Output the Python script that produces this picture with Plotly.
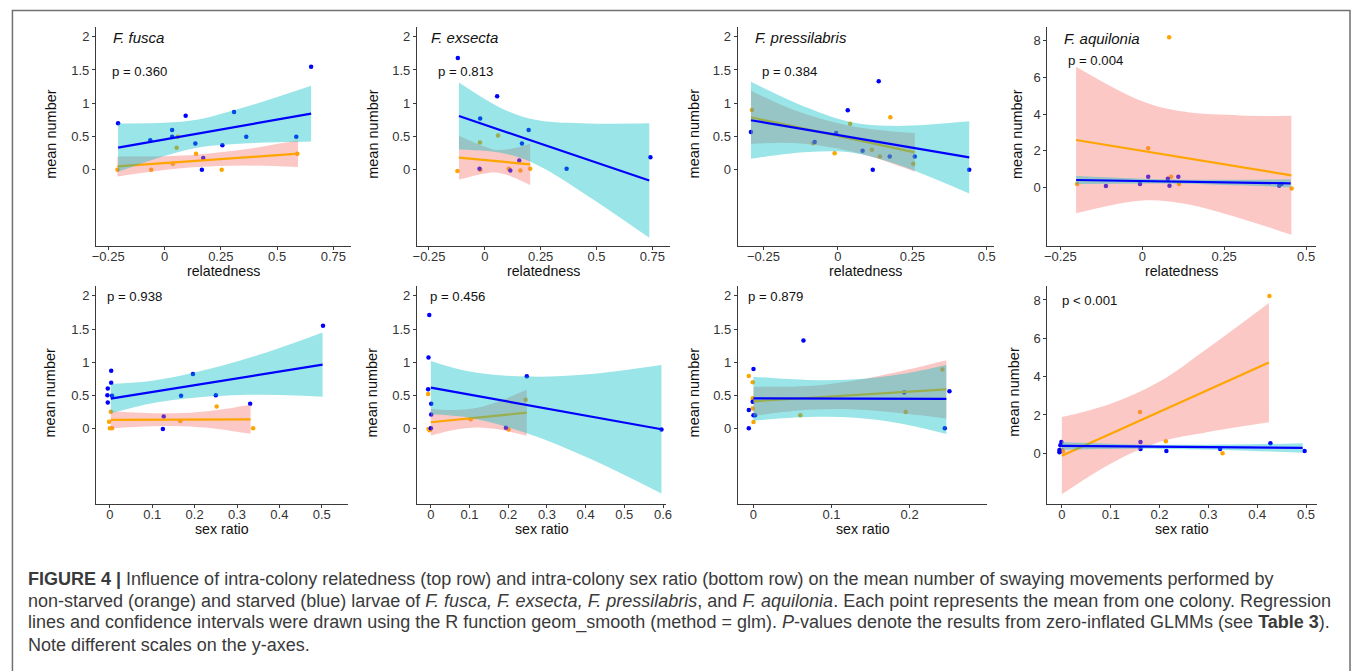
import plotly.graph_objects as go

W, H = 1358, 671

# ---------------------------------------------------------------
# Colony means, fitted lines and confidence bands
# NS = non-starved (orange), S = starved (blue)
# fit_x: positions along the fitted line, fit_y: fitted values,
# lo / hi: lower / upper confidence limit at the same positions
# ---------------------------------------------------------------

# F. fusca ~ relatedness
FUS_REL_NS_X = [-0.209, -0.059, 0.037, 0.054, 0.059, 0.14, 0.254, 0.59]
FUS_REL_NS_Y = [0.0, 0.0, 0.09, 0.33, 0.495, 0.24, 0.0, 0.24]
FUS_REL_S_X = [-0.206, -0.063, 0.034, 0.034, 0.094, 0.137, 0.166, 0.172, 0.257, 0.309, 0.363, 0.585, 0.651]
FUS_REL_S_Y = [0.70, 0.444, 0.596, 0.495, 0.813, 0.394, 0.0, 0.177, 0.369, 0.869, 0.495, 0.495, 1.55]
FUS_REL_NS_FIT_X = [-0.209, 0.0, 0.15, 0.35, 0.593]
FUS_REL_NS_FIT_Y = [0.05, 0.10, 0.136, 0.184, 0.242]
FUS_REL_NS_LO = [-0.10, -0.005, 0.041, 0.064, 0.042]
FUS_REL_NS_HI = [0.20, 0.205, 0.231, 0.304, 0.442]
FUS_REL_S_FIT_X = [-0.206, 0.0, 0.15, 0.35, 0.651]
FUS_REL_S_FIT_Y = [0.333, 0.456, 0.545, 0.664, 0.843]
FUS_REL_S_LO = [-0.031, 0.206, 0.335, 0.394, 0.423]
FUS_REL_S_HI = [0.697, 0.706, 0.755, 0.934, 1.263]

# F. exsecta ~ relatedness
EXS_REL_NS_X = [-0.123, -0.022, -0.02, 0.059, 0.107, 0.159, 0.203]
EXS_REL_NS_Y = [-0.02, 0.41, 0.0, 0.515, 0.015, -0.01, 0.015]
EXS_REL_S_X = [-0.121, -0.021, -0.024, 0.055, 0.114, 0.154, 0.166, 0.196, 0.366, 0.741]
EXS_REL_S_Y = [1.68, 0.77, 0.015, 1.106, -0.01, 0.14, 0.394, 0.596, 0.015, 0.19]
EXS_REL_NS_FIT_X = [-0.116, 0.0, 0.05, 0.12, 0.203]
EXS_REL_NS_FIT_Y = [0.182, 0.145, 0.129, 0.107, 0.081]
EXS_REL_NS_LO = [-0.148, -0.055, -0.041, -0.103, -0.229]
EXS_REL_NS_HI = [0.512, 0.345, 0.299, 0.317, 0.391]
EXS_REL_S_FIT_X = [-0.116, 0.09, 0.239, 0.461, 0.736]
EXS_REL_S_FIT_Y = [0.808, 0.572, 0.404, 0.152, -0.162]
EXS_REL_S_LO = [0.303, 0.242, 0.064, -0.393, -1.022]
EXS_REL_S_HI = [1.313, 0.90, 0.744, 0.697, 0.698]

# F. pressilabris ~ relatedness
PRE_REL_NS_X = [-0.289, -0.083, -0.011, 0.041, 0.114, 0.141, 0.176, 0.253]
PRE_REL_NS_Y = [0.90, 0.40, 0.25, 0.69, 0.30, 0.20, 0.79, 0.09]
PRE_REL_S_X = [-0.292, -0.078, -0.006, 0.033, 0.083, 0.117, 0.137, 0.174, 0.258, 0.441]
PRE_REL_S_Y = [0.568, 0.417, 0.553, 0.894, 0.286, 0.0, 1.33, 0.20, 0.20, 0.0]
PRE_REL_NS_FIT_X = [-0.292, -0.15, 0.0, 0.12, 0.258]
PRE_REL_NS_FIT_Y = [0.789, 0.652, 0.508, 0.394, 0.261]
PRE_REL_NS_LO = [0.389, 0.402, 0.318, 0.184, -0.029]
PRE_REL_NS_HI = [1.189, 0.902, 0.698, 0.604, 0.551]
PRE_REL_S_FIT_X = [-0.292, -0.1, 0.05, 0.2, 0.441]
PRE_REL_S_FIT_Y = [0.744, 0.597, 0.483, 0.369, 0.186]
PRE_REL_S_LO = [0.166, 0.267, 0.257, 0.079, -0.357]
PRE_REL_S_HI = [1.322, 0.927, 0.709, 0.659, 0.729]

# F. aquilonia ~ relatedness
AQU_REL_NS_X = [-0.199, 0.018, 0.082, 0.088, 0.112, 0.456]
AQU_REL_NS_Y = [0.2, 2.14, 8.19, 0.6, 0.2, -0.04]
AQU_REL_S_X = [-0.111, -0.007, 0.018, 0.078, 0.083, 0.110, 0.418, 0.425]
AQU_REL_S_Y = [0.09, 0.2, 0.6, 0.49, 0.11, 0.6, 0.11, 0.2]
AQU_REL_NS_FIT_X = [-0.202, 0.0, 0.125, 0.3, 0.455]
AQU_REL_NS_FIT_Y = [2.595, 2.004, 1.639, 1.127, 0.672]
AQU_REL_NS_LO = [-1.395, -0.696, -0.861, -1.673, -2.568]
AQU_REL_NS_HI = [6.585, 4.70, 4.14, 3.93, 3.91]
AQU_REL_S_FIT_X = [-0.202, 0.0, 0.125, 0.3, 0.453]
AQU_REL_S_FIT_Y = [0.417, 0.361, 0.327, 0.278, 0.236]
AQU_REL_S_LO = [0.197, 0.231, 0.217, 0.128, 0.016]
AQU_REL_S_HI = [0.637, 0.491, 0.437, 0.428, 0.456]

# F. fusca ~ sex ratio
FUS_SEX_NS_X = [-0.002, 0.0, 0.005, 0.002, 0.166, 0.252, 0.338]
FUS_SEX_NS_Y = [0.1, 0.0, 0.0, 0.25, 0.11, 0.33, 0.0]
FUS_SEX_S_X = [-0.005, -0.006, -0.005, 0.003, 0.003, 0.005, 0.125, 0.127, 0.168, 0.196, 0.25, 0.331, 0.503]
FUS_SEX_S_Y = [0.6, 0.5, 0.39, 0.87, 0.69, 0.49, -0.01, 0.18, 0.49, 0.82, 0.5, 0.37, 1.55]
FUS_SEX_NS_FIT_X = [0.002, 0.1, 0.17, 0.25, 0.332]
FUS_SEX_NS_FIT_Y = [0.126, 0.129, 0.131, 0.134, 0.136]
FUS_SEX_NS_LO = [-0.004, 0.029, 0.031, -0.006, -0.084]
FUS_SEX_NS_HI = [0.256, 0.229, 0.231, 0.274, 0.356]
FUS_SEX_S_FIT_X = [0.002, 0.1, 0.2, 0.35, 0.502]
FUS_SEX_S_FIT_Y = [0.448, 0.549, 0.652, 0.806, 0.962]
FUS_SEX_S_LO = [0.226, 0.379, 0.462, 0.506, 0.477]
FUS_SEX_S_HI = [0.67, 0.719, 0.842, 1.106, 1.447]

# F. exsecta ~ sex ratio
EXS_SEX_NS_X = [-0.007, -0.006, -0.003, 0.0, 0.103, 0.201, 0.245]
EXS_SEX_NS_Y = [0.52, -0.01, -0.03, 0.0, 0.136, -0.02, 0.43]
EXS_SEX_S_X = [-0.004, -0.006, -0.007, 0.001, 0.001, 0.0, 0.194, 0.248, 0.596]
EXS_SEX_S_Y = [1.71, 1.07, 0.59, 0.37, 0.21, 0.0, 0.01, 0.786, -0.02]
EXS_SEX_NS_FIT_X = [0.0, 0.06, 0.12, 0.18, 0.248]
EXS_SEX_NS_FIT_Y = [0.091, 0.126, 0.161, 0.197, 0.237]
EXS_SEX_NS_LO = [-0.109, -0.024, 0.011, -0.023, -0.113]
EXS_SEX_NS_HI = [0.291, 0.276, 0.311, 0.417, 0.587]
EXS_SEX_S_FIT_X = [0.0, 0.1, 0.248, 0.406, 0.596]
EXS_SEX_S_FIT_Y = [0.615, 0.509, 0.353, 0.185, -0.015]
EXS_SEX_S_LO = [0.212, 0.159, -0.075, -0.445, -0.985]
EXS_SEX_S_HI = [1.018, 0.859, 0.781, 0.815, 0.955]

# F. pressilabris ~ sex ratio
PRE_SEX_NS_X = [-0.006, -0.001, -0.001, -0.001, 0.0, 0.06, 0.195, 0.242]
PRE_SEX_NS_Y = [0.79, 0.695, 0.453, 0.30, 0.096, 0.196, 0.247, 0.89]
PRE_SEX_S_X = [-0.006, -0.006, 0.0, -0.001, 0.0, 0.002, 0.064, 0.193, 0.245, 0.251]
PRE_SEX_S_Y = [0.0, 0.277, 0.897, 0.40, 0.196, 0.196, 1.325, 0.54, 0.0, 0.559]
PRE_SEX_NS_FIT_X = [0.0, 0.07, 0.13, 0.19, 0.247]
PRE_SEX_NS_FIT_Y = [0.408, 0.459, 0.504, 0.547, 0.589]
PRE_SEX_NS_LO = [0.188, 0.279, 0.284, 0.227, 0.149]
PRE_SEX_NS_HI = [0.628, 0.639, 0.724, 0.867, 1.029]
PRE_SEX_S_FIT_X = [0.0, 0.07, 0.13, 0.19, 0.247]
PRE_SEX_S_FIT_Y = [0.453, 0.45, 0.448, 0.446, 0.443]
PRE_SEX_S_LO = [0.116, 0.17, 0.16, 0.07, -0.086]
PRE_SEX_S_HI = [0.78, 0.73, 0.74, 0.82, 0.957]

# F. aquilonia ~ sex ratio
AQU_SEX_NS_X = [0.001, 0.002, 0.16, 0.213, 0.329, 0.425]
AQU_SEX_NS_Y = [0.17, 0.09, 2.16, 0.63, 0.0, 8.2]
AQU_SEX_S_X = [-0.005, -0.005, -0.003, -0.001, 0.161, 0.161, 0.214, 0.324, 0.427, 0.497]
AQU_SEX_S_Y = [0.17, 0.05, 0.42, 0.59, 0.59, 0.23, 0.12, 0.23, 0.52, 0.12]
AQU_SEX_NS_FIT_X = [0.0, 0.1, 0.2, 0.3, 0.424]
AQU_SEX_NS_FIT_Y = [-0.122, 1.026, 2.165, 3.311, 4.73]
AQU_SEX_NS_LO = [-2.137, -0.539, 0.585, 1.111, 1.615]
AQU_SEX_NS_HI = [1.893, 2.591, 3.745, 5.511, 7.845]
AQU_SEX_S_FIT_X = [0.0, 0.12, 0.22, 0.35, 0.493]
AQU_SEX_S_FIT_Y = [0.383, 0.357, 0.336, 0.308, 0.278]
AQU_SEX_S_LO = [0.183, 0.237, 0.226, 0.158, 0.028]
AQU_SEX_S_HI = [0.583, 0.477, 0.446, 0.458, 0.528]

SPECIES = ["F. fusca", "F. exsecta", "F. pressilabris", "F. aquilonia"]
P_REL = ["p = 0.360", "p = 0.813", "p = 0.384", "p = 0.004"]
P_SEX = ["p = 0.938", "p = 0.456", "p = 0.879", "p < 0.001"]

REL_TICKS_WIDE = [-0.25, 0, 0.25, 0.5, 0.75]
REL_TICKS_NARROW = [-0.25, 0, 0.25, 0.5]
SEX_TICKS_05 = [0, 0.1, 0.2, 0.3, 0.4, 0.5]
SEX_TICKS_06 = [0, 0.1, 0.2, 0.3, 0.4, 0.5, 0.6]
SEX_TICKS_03 = [0, 0.1, 0.2, 0.3]
Y_TICKS_SMALL = [0, 0.5, 1, 1.5, 2]
Y_TICKS_LARGE = [0, 2, 4, 6, 8]

# ---------------------------------------------------------------
ORANGE = "#FFA500"
BLUE = "#0000FF"
PINK_FILL = "rgba(248,118,109,0.4)"
CYAN_FILL = "rgba(0,191,196,0.4)"
AXIS_COL = "#3a3a3a"
FONT = "Liberation Sans, Arial, Helvetica, sans-serif"


def fx(px):
    return px / W


def fy(py):
    return 1 - py / H


def tick_text(v):
    if v == 0:
        return "0"
    s = ("%g" % v)
    return s.replace("-", "\u2212")


def series(ns_x, ns_y, s_x, s_y, ns_fx, ns_fy, ns_lo, ns_hi, s_fx, s_fy, s_lo, s_hi):
    return dict(ns=(ns_x, ns_y), s=(s_x, s_y),
                ns_fit=(ns_fx, ns_fy, ns_lo, ns_hi),
                s_fit=(s_fx, s_fy, s_lo, s_hi))


DATA = [
    series(FUS_REL_NS_X, FUS_REL_NS_Y, FUS_REL_S_X, FUS_REL_S_Y,
           FUS_REL_NS_FIT_X, FUS_REL_NS_FIT_Y, FUS_REL_NS_LO, FUS_REL_NS_HI,
           FUS_REL_S_FIT_X, FUS_REL_S_FIT_Y, FUS_REL_S_LO, FUS_REL_S_HI),
    series(EXS_REL_NS_X, EXS_REL_NS_Y, EXS_REL_S_X, EXS_REL_S_Y,
           EXS_REL_NS_FIT_X, EXS_REL_NS_FIT_Y, EXS_REL_NS_LO, EXS_REL_NS_HI,
           EXS_REL_S_FIT_X, EXS_REL_S_FIT_Y, EXS_REL_S_LO, EXS_REL_S_HI),
    series(PRE_REL_NS_X, PRE_REL_NS_Y, PRE_REL_S_X, PRE_REL_S_Y,
           PRE_REL_NS_FIT_X, PRE_REL_NS_FIT_Y, PRE_REL_NS_LO, PRE_REL_NS_HI,
           PRE_REL_S_FIT_X, PRE_REL_S_FIT_Y, PRE_REL_S_LO, PRE_REL_S_HI),
    series(AQU_REL_NS_X, AQU_REL_NS_Y, AQU_REL_S_X, AQU_REL_S_Y,
           AQU_REL_NS_FIT_X, AQU_REL_NS_FIT_Y, AQU_REL_NS_LO, AQU_REL_NS_HI,
           AQU_REL_S_FIT_X, AQU_REL_S_FIT_Y, AQU_REL_S_LO, AQU_REL_S_HI),
    series(FUS_SEX_NS_X, FUS_SEX_NS_Y, FUS_SEX_S_X, FUS_SEX_S_Y,
           FUS_SEX_NS_FIT_X, FUS_SEX_NS_FIT_Y, FUS_SEX_NS_LO, FUS_SEX_NS_HI,
           FUS_SEX_S_FIT_X, FUS_SEX_S_FIT_Y, FUS_SEX_S_LO, FUS_SEX_S_HI),
    series(EXS_SEX_NS_X, EXS_SEX_NS_Y, EXS_SEX_S_X, EXS_SEX_S_Y,
           EXS_SEX_NS_FIT_X, EXS_SEX_NS_FIT_Y, EXS_SEX_NS_LO, EXS_SEX_NS_HI,
           EXS_SEX_S_FIT_X, EXS_SEX_S_FIT_Y, EXS_SEX_S_LO, EXS_SEX_S_HI),
    series(PRE_SEX_NS_X, PRE_SEX_NS_Y, PRE_SEX_S_X, PRE_SEX_S_Y,
           PRE_SEX_NS_FIT_X, PRE_SEX_NS_FIT_Y, PRE_SEX_NS_LO, PRE_SEX_NS_HI,
           PRE_SEX_S_FIT_X, PRE_SEX_S_FIT_Y, PRE_SEX_S_LO, PRE_SEX_S_HI),
    series(AQU_SEX_NS_X, AQU_SEX_NS_Y, AQU_SEX_S_X, AQU_SEX_S_Y,
           AQU_SEX_NS_FIT_X, AQU_SEX_NS_FIT_Y, AQU_SEX_NS_LO, AQU_SEX_NS_HI,
           AQU_SEX_S_FIT_X, AQU_SEX_S_FIT_Y, AQU_SEX_S_LO, AQU_SEX_S_HI),
]

# Panel geometry in pixels: (left, right, top, bottom), axis ranges, ticks,
# and the gap between the y axis and its rotated title
TOP = (26.7, 246.3)
BOT = (286.0, 504.4)
PANELS = [
    dict(px=(92.7, 350.0), py=TOP, xr=[-0.304, 0.83], yr=[-1.15, 2.15], xt=REL_TICKS_WIDE, yt=Y_TICKS_SMALL, tgap=46),
    dict(px=(416.0, 671.0), py=TOP, xr=[-0.304, 0.829], yr=[-1.15, 2.15], xt=REL_TICKS_WIDE, yt=Y_TICKS_SMALL, tgap=45),
    dict(px=(739.0, 997.6), py=TOP, xr=[-0.337, 0.525], yr=[-1.15, 2.15], xt=REL_TICKS_NARROW, yt=Y_TICKS_SMALL, tgap=44),
    dict(px=(1051.0, 1322.0), py=TOP, xr=[-0.29, 0.531], yr=[-3.19, 8.76], xt=REL_TICKS_NARROW, yt=Y_TICKS_LARGE, tgap=31),
    dict(px=(92.7, 347.0), py=BOT, xr=[-0.0328, 0.563], yr=[-1.15, 2.15], xt=SEX_TICKS_05, yt=Y_TICKS_SMALL, tgap=46),
    dict(px=(416.0, 667.4), py=BOT, xr=[-0.0359, 0.609], yr=[-1.15, 2.15], xt=SEX_TICKS_06, yt=Y_TICKS_SMALL, tgap=45),
    dict(px=(739.3, 990.7), py=BOT, xr=[-0.02, 0.2996], yr=[-1.15, 2.15], xt=SEX_TICKS_03, yt=Y_TICKS_SMALL, tgap=44),
    dict(px=(1051.0, 1322.4), py=BOT, xr=[-0.0299, 0.5217], yr=[-2.666, 8.727], xt=SEX_TICKS_05, yt=Y_TICKS_LARGE, tgap=33),
]

fig = go.Figure()
layout = {}
annotations = []

for i, (pan, d) in enumerate(zip(PANELS, DATA)):
    n = "" if i == 0 else str(i + 1)
    xa, ya = "x" + n, "y" + n

    # colony means (drawn first so bands sit over them)
    fig.add_trace(go.Scatter(x=d["ns"][0], y=d["ns"][1], mode="markers",
                             marker=dict(color=ORANGE, size=4.5), xaxis=xa, yaxis=ya,
                             showlegend=False, hoverinfo="skip"))
    fig.add_trace(go.Scatter(x=d["s"][0], y=d["s"][1], mode="markers",
                             marker=dict(color=BLUE, size=4.5), xaxis=xa, yaxis=ya,
                             showlegend=False, hoverinfo="skip"))

    for key, fill, col in (("ns_fit", PINK_FILL, ORANGE), ("s_fit", CYAN_FILL, BLUE)):
        bx, by, lo, hi = d[key]
        fig.add_trace(go.Scatter(x=bx, y=lo, mode="lines",
                                 line=dict(width=0, shape="spline", smoothing=1),
                                 xaxis=xa, yaxis=ya, showlegend=False, hoverinfo="skip"))
        fig.add_trace(go.Scatter(x=bx, y=hi, mode="lines", fill="tonexty", fillcolor=fill,
                                 line=dict(width=0, shape="spline", smoothing=1),
                                 xaxis=xa, yaxis=ya, showlegend=False, hoverinfo="skip"))
        fig.add_trace(go.Scatter(x=bx, y=by, mode="lines", line=dict(color=col, width=2.2),
                                 xaxis=xa, yaxis=ya, showlegend=False, hoverinfo="skip"))

    common = dict(showline=True, linecolor=AXIS_COL, linewidth=1.1, ticks="outside",
                  ticklen=3, tickwidth=1, tickcolor=AXIS_COL, showgrid=False, zeroline=False,
                  tickfont=dict(family=FONT, size=13, color="#333333"), fixedrange=True)
    layout["xaxis" + n] = dict(common, domain=[fx(pan["px"][0]), fx(pan["px"][1])],
                               range=pan["xr"], anchor=ya, tickmode="array",
                               ticklabelstandoff=-5,
                               tickvals=pan["xt"], ticktext=[tick_text(v) for v in pan["xt"]])
    layout["yaxis" + n] = dict(common, domain=[fy(pan["py"][1]), fy(pan["py"][0])],
                               range=pan["yr"], anchor=xa, tickmode="array",
                               tickvals=pan["yt"], ticktext=[tick_text(v) for v in pan["yt"]])

    left, right = pan["px"]
    top, bottom = pan["py"]
    # y-axis title
    annotations.append(dict(text="mean number", x=fx(left - pan["tgap"]), y=fy((top + bottom) / 2 - 3),
                            xref="paper", yref="paper", textangle=-90, showarrow=False,
                            font=dict(family=FONT, size=14.5, color="#111111"),
                            xanchor="center", yanchor="middle"))
    # x-axis title
    annotations.append(dict(text="relatedness" if i < 4 else "sex ratio",
                            x=fx((left + right) / 2), y=fy(bottom + 25), borderpad=0,
                            xref="paper", yref="paper", showarrow=False,
                            font=dict(family=FONT, size=14.2, color="#111111"),
                            xanchor="center", yanchor="middle"))

# species names and p-values
TITLE_POS = [(107.3, 37.5), (428.3, 37.5), (755.0, 37.5), (1066.0, 38.5)]
PREL_POS = [(106.7, 71.7), (435.7, 71.7), (761.7, 71.7), (1070.0, 60.0)]
PSEX_POS = [(101.7, 296.0), (426.7, 296.0), (747.7, 296.0), (1064.3, 300.7)]
for name, (tx, ty) in zip(SPECIES, TITLE_POS):
    annotations.append(dict(text="<i>%s</i>" % name, x=fx(tx), y=fy(ty), xref="paper",
                            yref="paper", showarrow=False, xanchor="left", yanchor="middle",
                            font=dict(family=FONT, size=15, color="#111111")))
for txt, (tx, ty) in list(zip(P_REL, PREL_POS)) + list(zip(P_SEX, PSEX_POS)):
    annotations.append(dict(text=txt, x=fx(tx), y=fy(ty), xref="paper", yref="paper",
                            showarrow=False, xanchor="left", yanchor="middle",
                            font=dict(family=FONT, size=13.2, color="#111111")))

# figure caption
CAPTION = [
    "<b>FIGURE 4 |</b> Influence of intra-colony relatedness (top row) and intra-colony sex ratio "
    "(bottom row) on the mean number of swaying movements performed by",
    "non-starved (orange) and starved (blue) larvae of <i>F. fusca, F. exsecta, F. pressilabris</i>, "
    "and <i>F. aquilonia</i>. Each point represents the mean from one colony. Regression",
    "lines and confidence intervals were drawn using the R function geom_smooth (method = glm). "
    "<i>P</i>-values denote the results from zero-inflated GLMMs (see <b>Table 3</b>).",
    "Note different scales on the y-axes.",
]
CAPTION_Y = [579.3, 601.0, 622.7, 645.0]
for line, cy in zip(CAPTION, CAPTION_Y):
    annotations.append(dict(text=line, x=fx(21.7), y=fy(cy), xref="paper", yref="paper",
                            showarrow=False, xanchor="left", yanchor="middle",
                            font=dict(family=FONT, size=18, color="#3a3a3a")))

layout.update(
    width=W, height=H, autosize=False,
    margin=dict(l=0, r=0, t=0, b=0, pad=0),
    paper_bgcolor="white", plot_bgcolor="rgba(0,0,0,0)",
    showlegend=False,
    annotations=annotations,
    shapes=[dict(type="rect", xref="paper", yref="paper",
                 x0=fx(8.5), x1=fx(1356), y0=fy(680), y1=fy(10.5),
                 line=dict(color="#707070", width=1.5))],
)
fig.update_layout(**layout)

fig.write_html("out.html", config={"displayModeBar": False})
